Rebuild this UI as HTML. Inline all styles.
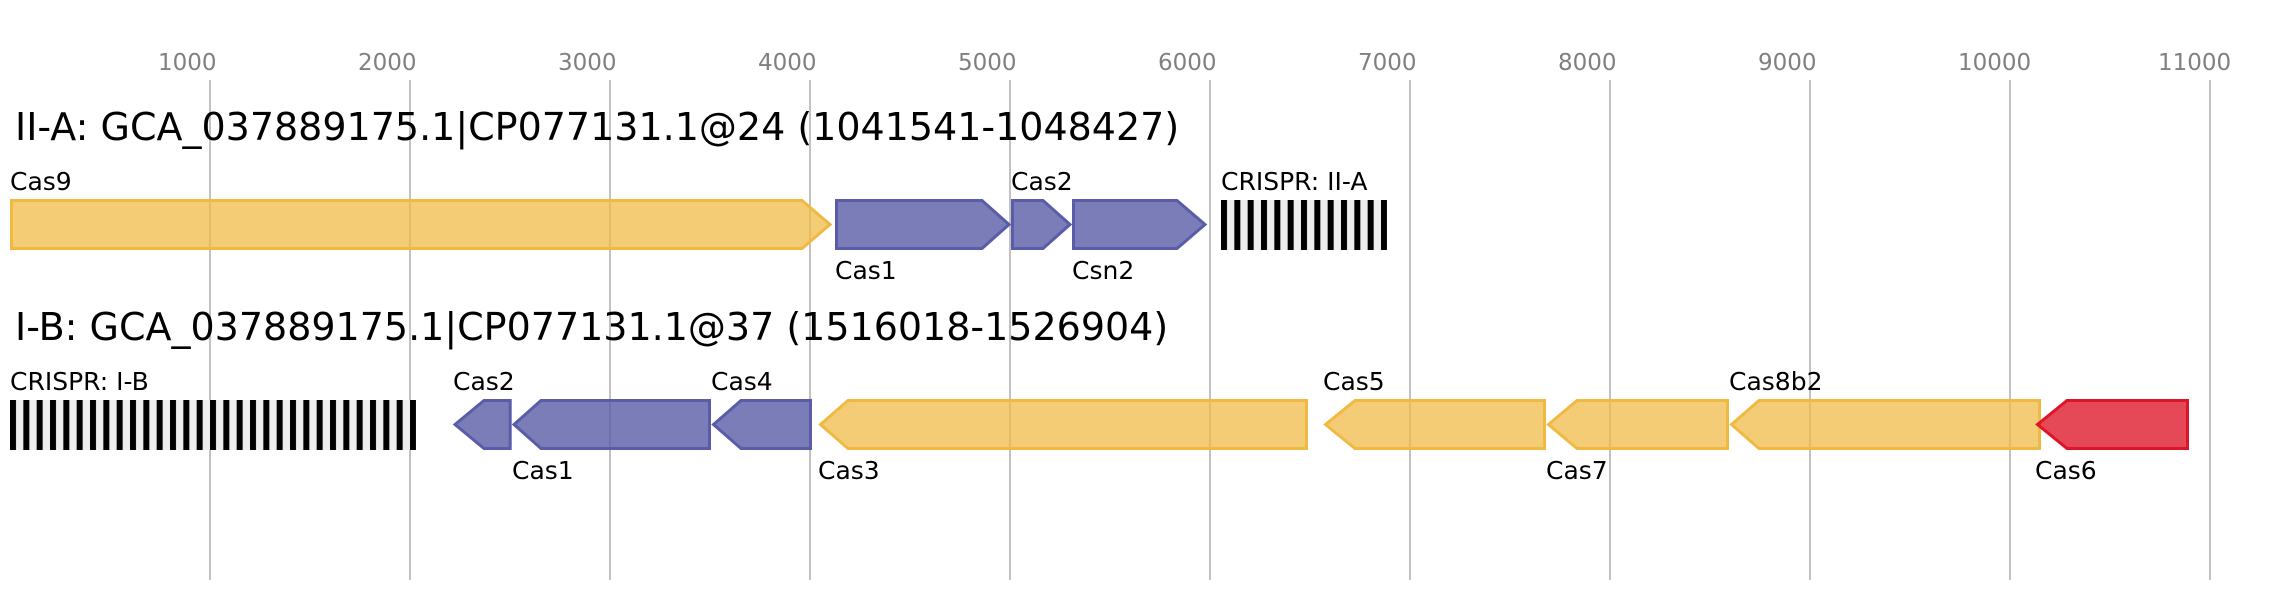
<!DOCTYPE html>
<html>
<head>
<meta charset="utf-8">
<style>
  html, body { margin: 0; padding: 0; background: #ffffff; }
  svg { display: block; }
  text { font-family: "DejaVu Sans", "Liberation Sans", sans-serif; }
</style>
</head>
<body>
<svg width="2277" height="600" viewBox="0 0 2277 600" xmlns="http://www.w3.org/2000/svg">
  <defs>
    <pattern id="cr1" patternUnits="userSpaceOnUse" x="1221" y="0" width="13.3333" height="600">
      <rect x="0" y="0" width="6" height="600" fill="#000"/>
    </pattern>
    <pattern id="cr2" patternUnits="userSpaceOnUse" x="10" y="0" width="13.3333" height="600">
      <rect x="0" y="0" width="6" height="600" fill="#000"/>
    </pattern>
  </defs>
  <rect x="0" y="0" width="2277" height="600" fill="#ffffff"/>

  <!-- grid lines -->
  <g stroke="#c2c2c2" stroke-width="2">
    <line x1="210" y1="80" x2="210" y2="580"/>
    <line x1="410" y1="80" x2="410" y2="580"/>
    <line x1="610" y1="80" x2="610" y2="580"/>
    <line x1="810" y1="80" x2="810" y2="580"/>
    <line x1="1010" y1="80" x2="1010" y2="580"/>
    <line x1="1210" y1="80" x2="1210" y2="580"/>
    <line x1="1410" y1="80" x2="1410" y2="580"/>
    <line x1="1610" y1="80" x2="1610" y2="580"/>
    <line x1="1810" y1="80" x2="1810" y2="580"/>
    <line x1="2010" y1="80" x2="2010" y2="580"/>
    <line x1="2210" y1="80" x2="2210" y2="580"/>
  </g>

  <!-- axis labels -->
  <g fill="#808080" font-size="23">
    <text x="158" y="70">1000</text>
    <text x="358" y="70">2000</text>
    <text x="558" y="70">3000</text>
    <text x="758" y="70">4000</text>
    <text x="958" y="70">5000</text>
    <text x="1158" y="70">6000</text>
    <text x="1358" y="70">7000</text>
    <text x="1558" y="70">8000</text>
    <text x="1758" y="70">9000</text>
    <text x="1958" y="70">10000</text>
    <text x="2158" y="70">11000</text>
  </g>

  <!-- titles -->
  <text x="15" y="140" font-size="38" fill="#000">II-A: GCA_037889175.1|CP077131.1@24 (1041541-1048427)</text>
  <text x="15" y="340" font-size="38" fill="#000">I-B: GCA_037889175.1|CP077131.1@37 (1516018-1526904)</text>

  <!-- CRISPR arrays -->
  <rect x="1221" y="200" width="166" height="50" fill="#eeeeee"/>
  <rect x="1221" y="200" width="166" height="50" fill="url(#cr1)"/>
  <rect x="10" y="400" width="406" height="50" fill="#eeeeee"/>
  <rect x="10" y="400" width="406" height="50" fill="url(#cr2)"/>

  <!-- Row 1 genes -->
  <g stroke-width="3" stroke-linejoin="miter">
    <polygon points="11.5,200.5 802,200.5 830,224.5 802,248.5 11.5,248.5" fill="#f0b942" fill-opacity="0.73" stroke="#f0b942"/>
    <polygon points="836.5,200.5 982,200.5 1009,224.5 982,248.5 836.5,248.5" fill="#5a5ca8" fill-opacity="0.8" stroke="#5a5ca8"/>
    <polygon points="1012.5,200.5 1043,200.5 1070,224.5 1043,248.5 1012.5,248.5" fill="#5a5ca8" fill-opacity="0.8" stroke="#5a5ca8"/>
    <polygon points="1073.5,200.5 1177,200.5 1205,224.5 1177,248.5 1073.5,248.5" fill="#5a5ca8" fill-opacity="0.8" stroke="#5a5ca8"/>
  </g>

  <!-- Row 2 genes -->
  <g stroke-width="3" stroke-linejoin="miter">
    <polygon points="510.2,400.5 484,400.5 455,424.5 484,448.5 510.2,448.5" fill="#5a5ca8" fill-opacity="0.8" stroke="#5a5ca8"/>
    <polygon points="709.5,400.5 541,400.5 514,424.5 541,448.5 709.5,448.5" fill="#5a5ca8" fill-opacity="0.8" stroke="#5a5ca8"/>
    <polygon points="810.5,400.5 741,400.5 713.5,424.5 741,448.5 810.5,448.5" fill="#5a5ca8" fill-opacity="0.8" stroke="#5a5ca8"/>
    <polygon points="1306.5,400.5 848,400.5 820.5,424.5 848,448.5 1306.5,448.5" fill="#f0b942" fill-opacity="0.73" stroke="#f0b942"/>
    <polygon points="1544.5,400.5 1355,400.5 1325.5,424.5 1355,448.5 1544.5,448.5" fill="#f0b942" fill-opacity="0.73" stroke="#f0b942"/>
    <polygon points="1727.5,400.5 1577,400.5 1548.5,424.5 1577,448.5 1727.5,448.5" fill="#f0b942" fill-opacity="0.73" stroke="#f0b942"/>
    <polygon points="2039.5,400.5 1759,400.5 1731.5,424.5 1759,448.5 2039.5,448.5" fill="#f0b942" fill-opacity="0.73" stroke="#f0b942"/>
    <polygon points="2187.5,400.5 2067,400.5 2037.5,424.5 2067,448.5 2187.5,448.5" fill="#de1428" fill-opacity="0.78" stroke="#de1428"/>
  </g>

  <!-- Row 1 labels -->
  <g font-size="25" fill="#000">
    <text x="10" y="190">Cas9</text>
    <text x="835" y="279">Cas1</text>
    <text x="1011" y="190">Cas2</text>
    <text x="1072" y="279">Csn2</text>
    <text x="1221" y="190">CRISPR: II-A</text>
  </g>

  <!-- Row 2 labels -->
  <g font-size="25" fill="#000">
    <text x="10" y="390">CRISPR: I-B</text>
    <text x="453" y="390">Cas2</text>
    <text x="512" y="479">Cas1</text>
    <text x="711" y="390">Cas4</text>
    <text x="818" y="479">Cas3</text>
    <text x="1323" y="390">Cas5</text>
    <text x="1546" y="479">Cas7</text>
    <text x="1729" y="390">Cas8b2</text>
    <text x="2035" y="479">Cas6</text>
  </g>
</svg>
</body>
</html>
